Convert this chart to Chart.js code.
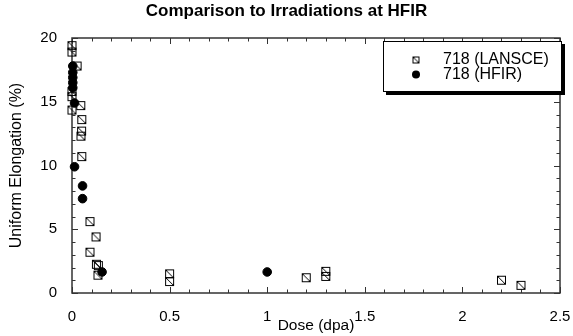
<!DOCTYPE html>
<html>
<head>
<meta charset="utf-8">
<script src="https://cdn.jsdelivr.net/npm/chart.js@4/dist/chart.umd.min.js"></script>
<style>
  html, body { margin: 0; padding: 0; background: #fff; }
</style>
</head>
<body>
<canvas id="chart" width="573" height="336"></canvas>
<script>
// 718 alloy, LANSCE spallation irradiations
const lansceDose  = [0.0, 0.0, 0.026, 0.0, 0.0, 0.045, 0.0, 0.05, 0.049, 0.046, 0.05, 0.092, 0.123, 0.092, 0.125, 0.135, 0.133, 0.5, 0.5, 1.2, 1.3, 1.3, 2.2, 2.3];
const lansceElong = [19.4, 18.9, 17.8, 15.8, 15.4, 14.7, 14.35, 13.6, 12.7, 12.3, 10.7, 5.6, 4.4, 3.2, 2.25, 2.15, 1.4, 1.5, 0.9, 1.2, 1.7, 1.3, 1.0, 0.6];
// 718 alloy, HFIR reactor irradiations
const hfirDose  = [0.004, 0.004, 0.004, 0.004, 0.004, 0.013, 0.013, 0.054, 0.054, 0.154, 1.0];
const hfirElong = [17.8, 17.3, 16.9, 16.5, 16.1, 14.9, 9.9, 8.4, 7.4, 1.65, 1.65];

const doseTicks  = [0, 0.5, 1, 1.5, 2, 2.5];
const elongTicks = [0, 5, 10, 15, 20];
const seriesNames = ['718 (LANSCE)', '718 (HFIR)'];

const FONT = 'Liberation Sans, Arial, Helvetica, sans-serif';

// square with a diagonal hatch line, used as a point style
function hatchSquare(size) {
  const c = document.createElement('canvas');
  c.width = size + 2; c.height = size + 2;
  const g = c.getContext('2d');
  g.strokeStyle = '#000';
  g.lineWidth = 1;
  g.strokeRect(1.5, 1.5, size - 1, size - 1);
  g.beginPath();
  g.moveTo(1.5, 1.5);
  g.lineTo(size + 0.5, size + 0.5);
  g.stroke();
  return c;
}

const markerSquare = hatchSquare(9);
const legendSquare = hatchSquare(7);

function toPoints(xs, ys) {
  return xs.map((x, i) => ({ x: x, y: ys[i] }));
}

// frame with inward major/minor ticks on all four sides, plus the boxed legend
const framePlugin = {
  id: 'frame',
  beforeDatasetsDraw(chart) {
    const { ctx, chartArea: a, scales: { x, y } } = chart;
    ctx.save();
    ctx.strokeStyle = '#333';
    ctx.lineWidth = 1.5;
    ctx.strokeRect(a.left, a.top, a.right - a.left, a.bottom - a.top);
    ctx.lineWidth = 1;
    ctx.beginPath();
    for (let i = 0; i <= 25; i++) {
      const px = Math.round(x.getPixelForValue(i / 10)) + 0.5;
      const len = i % 5 === 0 ? 6 : 3.5;
      ctx.moveTo(px, a.bottom); ctx.lineTo(px, a.bottom - len);
      ctx.moveTo(px, a.top); ctx.lineTo(px, a.top + len);
    }
    for (let i = 0; i <= 20; i++) {
      const py = Math.round(y.getPixelForValue(i)) + 0.5;
      const len = i % 5 === 0 ? 6 : 3.5;
      ctx.moveTo(a.left, py); ctx.lineTo(a.left + len, py);
      ctx.moveTo(a.right, py); ctx.lineTo(a.right - len, py);
    }
    ctx.stroke();
    ctx.restore();
  },
  afterDatasetsDraw(chart) {
    const { ctx } = chart;
    const bx = 383, by = 41, bw = 179, bh = 51;
    ctx.save();
    // drop shadow, then box
    ctx.fillStyle = '#000';
    ctx.fillRect(bx + 3, by + 3, bw, bh);
    ctx.fillStyle = '#fff';
    ctx.fillRect(bx, by, bw, bh);
    ctx.strokeStyle = '#000';
    ctx.lineWidth = 1;
    ctx.strokeRect(bx + 0.5, by + 0.5, bw - 1, bh - 1);

    ctx.drawImage(legendSquare, 416 - legendSquare.width / 2, 60 - legendSquare.height / 2);
    ctx.beginPath();
    ctx.arc(416, 74.5, 4, 0, Math.PI * 2);
    ctx.fillStyle = '#000';
    ctx.fill();

    ctx.font = '16px ' + FONT;
    ctx.textBaseline = 'middle';
    ctx.textAlign = 'left';
    ctx.fillText(seriesNames[0], 443, 60);
    ctx.fillText(seriesNames[1], 443, 75);
    ctx.restore();
  }
};

const ctx = document.getElementById('chart').getContext('2d');
const myChart = new Chart(ctx, {
  type: 'scatter',
  data: {
    datasets: [
      { label: seriesNames[0], data: toPoints(lansceDose, lansceElong), pointStyle: markerSquare, clip: false },
      { label: seriesNames[1], data: toPoints(hfirDose, hfirElong), pointStyle: 'circle', pointRadius: 4.3,
        backgroundColor: '#000', borderColor: '#000', borderWidth: 1, clip: false }
    ]
  },
  options: {
    responsive: false,
    animation: false,
    layout: { padding: 0 },
    plugins: {
      legend: { display: false },
      tooltip: { enabled: false },
      title: {
        display: true,
        text: 'Comparison to Irradiations at HFIR',
        color: '#000',
        font: { family: FONT, size: 17, weight: 'bold' },
        padding: { top: 1.4, bottom: 16.2 }
      }
    },
    scales: {
      x: {
        type: 'linear', min: 0, max: 2.5,
        afterBuildTicks: s => { s.ticks = doseTicks.map(v => ({ value: v })); },
        afterFit: s => { s.height = 43; s.paddingLeft = 0; s.paddingRight = 13; },
        grid: { display: false, drawTicks: false },
        border: { display: false },
        ticks: { color: '#000', padding: 15, maxRotation: 0, font: { family: FONT, size: 15 }, callback: v => String(v) },
        title: { display: true, text: 'Dose (dpa)', color: '#000', font: { family: FONT, size: 15.5 }, padding: { top: 0, bottom: 1.4 } }
      },
      y: {
        type: 'linear', min: 0, max: 20,
        afterBuildTicks: s => { s.ticks = elongTicks.map(v => ({ value: v })); },
        afterFit: s => { s.width = 72; },
        grid: { display: false, drawTicks: false },
        border: { display: false },
        ticks: { color: '#000', padding: 15, font: { family: FONT, size: 15 }, callback: v => String(v) },
        title: { display: true, text: 'Uniform Elongation (%)', color: '#000', font: { family: FONT, size: 16 }, padding: { top: 7.4, bottom: 0 } }
      }
    }
  },
  plugins: [framePlugin]
});
</script>
</body>
</html>
